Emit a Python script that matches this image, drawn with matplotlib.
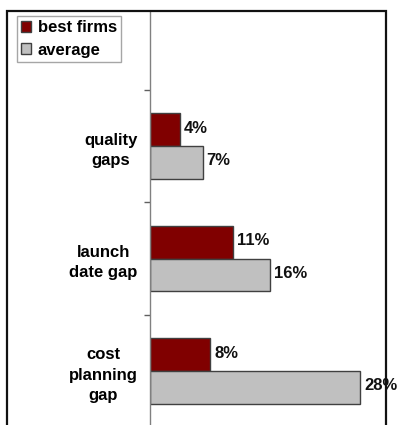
import matplotlib

matplotlib.use("Agg")
import matplotlib.pyplot as plt
import numpy as np
from matplotlib.patches import Patch, Rectangle

# --- gap figures, best firms vs. average ------------------------------------
CATEGORIES = ["quality\ngaps", "launch\ndate gap", "cost\nplanning\ngap"]
BEST = [4, 11, 8]
AVERAGE = [7, 16, 28]

C_BEST = "#800000"
C_AVG = "#C0C0C0"
C_EDGE = "#404040"

plt.rcParams.update({
    "font.family": ["Liberation Sans", "DejaVu Sans"],
    "font.weight": "bold",
    "font.size": 12,
})

fig = plt.figure(figsize=(3.97, 4.25), dpi=100)
W, H = 397, 425
ax = fig.add_axes([150 / W, 0, (386 - 150) / W, (H - 12) / H])

y = np.arange(len(CATEGORIES))
h = 0.29
b1 = ax.barh(y - h / 2, BEST, h, color=C_BEST, edgecolor=C_EDGE, lw=1.0)
b2 = ax.barh(y + h / 2, AVERAGE, h, color=C_AVG, edgecolor=C_EDGE, lw=1.0)

for bars in (b1, b2):
    for b in bars:
        v = b.get_width()
        ax.annotate(f"{v:.0f}%", (v, b.get_y() + b.get_height() / 2),
                    xytext=(3, 1), textcoords="offset points",
                    ha="left", va="center", fontsize=12, fontweight="bold",
                    color="#111111")

ax.set_xlim(0, (386 - 150) / 7.5)
ax.set_ylim((H - 146) / 112.5, (12 - 146) / 112.5)

# category names centred per line, right edge just left of the axis
ax.set_yticks(y)
ax.set_yticklabels(CATEGORIES)
for lab in ax.get_yticklabels():
    lab.set_multialignment("center")
    lab.set_fontweight("bold")
    lab.set_linespacing(1.45)
ax.tick_params(axis="y", which="major", length=0, pad=9)
# short separators between categories
ax.set_yticks(np.arange(-0.5, len(CATEGORIES) - 0.5), minor=True)
ax.tick_params(axis="y", which="minor", length=4, width=1, color="#606060")
ax.set_xticks([])

for side in ("top", "right", "bottom"):
    ax.spines[side].set_visible(False)
ax.spines["left"].set_color("#808080")
ax.spines["left"].set_linewidth(1.0)
ax.patch.set_alpha(0)

# outer chart frame (runs off the bottom edge)
fig.patches.append(Rectangle((7 / W, -0.05), (386 - 7) / W, (H - 11) / H + 0.05,
                             transform=fig.transFigure, fill=False,
                             edgecolor="#111111", lw=1.6, zorder=0))

handles = [Patch(facecolor=C_BEST, edgecolor=C_EDGE, label="best firms"),
           Patch(facecolor=C_AVG, edgecolor=C_EDGE, label="average")]
fig.legend(handles=handles, loc="upper left",
           bbox_to_anchor=(17 / W, 1 - 16 / H), fontsize=12,
           frameon=True, fancybox=False, edgecolor="#909090",
           handlelength=0.6, handleheight=0.6, handletextpad=0.4,
           borderpad=0.25, labelspacing=0.45, borderaxespad=0)

fig.savefig("out.png", dpi=100)
